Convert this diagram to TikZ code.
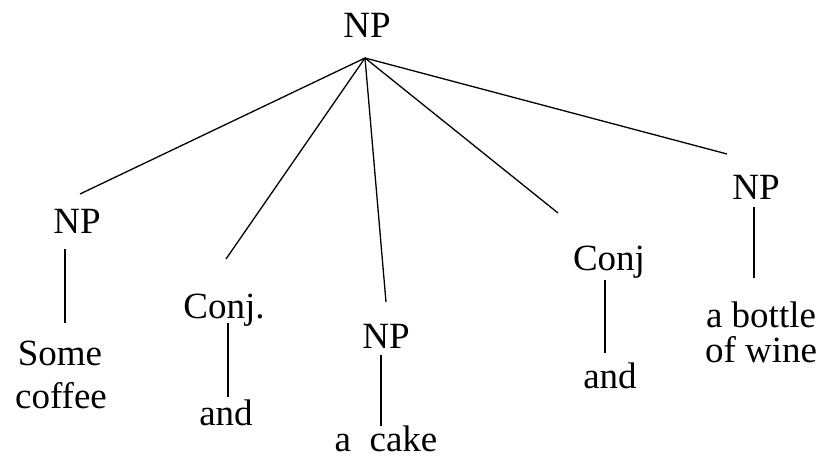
\documentclass[tikz,border=0pt]{standalone}
\usepackage{fontspec}
\setmainfont{Liberation Serif}
\begin{document}
\begin{tikzpicture}[x=1pt,y=-1pt,
  lbl/.style={anchor=base,inner sep=0pt,font=\fontsize{37}{43}\selectfont},
  edge/.style={line width=1.3pt,black}]
\useasboundingbox (0,0) rectangle (822,457);
% labels
\node[lbl] (top) at (367,38) {NP};
\node[lbl] (np1) at (77,234) {NP};
\node[lbl] (some) at (60,365) {Some};
\node[lbl] (coffee) at (61,408) {coffee};
\node[lbl] (conj1) at (224,318) {Conj.};
\node[lbl] (and1) at (226,425) {and};
\node[lbl] (np2) at (386,348) {NP};
\node[lbl] (cake) at (386,451) {a\ \ cake};
\node[lbl] (conj2) at (609,270) {Conj};
\node[lbl] (and2) at (610,388) {and};
\node[lbl] (np3) at (756,200) {NP};
\node[lbl] (bottle) at (761,327) {a bottle};
\node[lbl] (wine) at (761,362) {of wine};
% connector endpoints
\coordinate (apex) at (365,58);
\coordinate (e1) at (80,194);
\coordinate (e2) at (226,259);
\coordinate (e3) at (386,302);
\coordinate (e4) at (558,213);
\coordinate (e5) at (727,154);
\coordinate (v1a) at (65,249);  \coordinate (v1b) at (65,323);
\coordinate (v2a) at (228,323); \coordinate (v2b) at (228,397);
\coordinate (v3a) at (381,355); \coordinate (v3b) at (381,426);
\coordinate (v4a) at (605,280); \coordinate (v4b) at (605,353);
\coordinate (v5a) at (754,207); \coordinate (v5b) at (754,278);
\foreach \e in {e1,e2,e3,e4,e5} \draw[edge] (apex) -- (\e);
\foreach \v in {1,...,5} \draw[edge] (v\v a) -- (v\v b);
\end{tikzpicture}
\end{document}
